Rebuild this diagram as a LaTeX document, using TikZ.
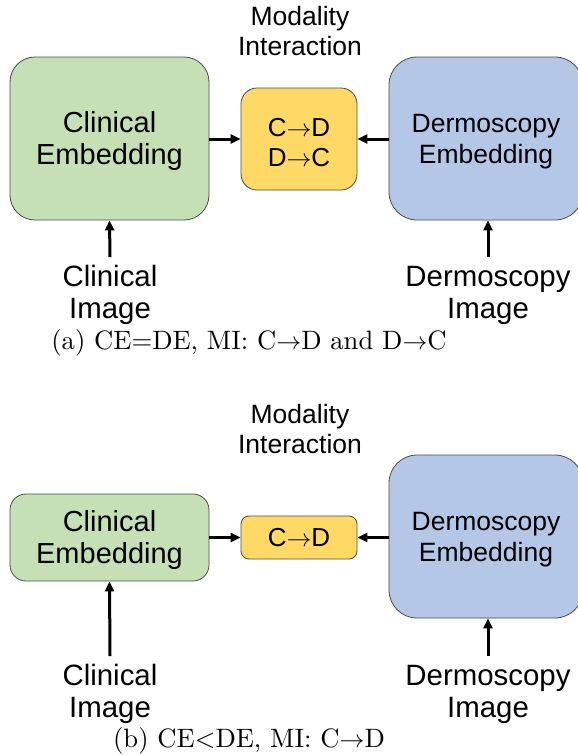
\documentclass[tikz,border=0pt]{standalone}
\usepackage{fontspec}
\newfontfamily\arialfont{Liberation Sans}
\newfontfamily\captionfont{lmroman10-regular}[Extension=.otf]
\usetikzlibrary{arrows.meta}
\definecolor{embgreen}{HTML}{C5E0B4}
\definecolor{embblue}{HTML}{B4C7E7}
\definecolor{miyellow}{HTML}{FFD966}
\newcommand{\tto}{{\ensuremath{\rightarrow}}}
\begin{document}
\begin{tikzpicture}[x=1pt,y=-1pt,
  block/.style={draw=black!70, line width=0.8pt, align=center, inner sep=0pt},
  cleanbox/.style={block, fill=embgreen, minimum width=199pt, text height=59pt, font=\arialfont\fontsize{29}{32}\selectfont},
  dermbox/.style={block, fill=embblue, minimum width=194pt, text height=56pt, font=\arialfont\fontsize{26.5}{31}\selectfont},
  mibox/.style={block, fill=miyellow, minimum width=116pt, font=\arialfont\fontsize{26}{30}\selectfont},
  feed/.style={line width=3pt, -{Triangle[length=10pt,width=9pt]}},
  inlabel/.style={align=center, inner sep=0pt, font=\arialfont\fontsize{29.4}{32}\selectfont},
  milabel/.style={align=center, inner sep=0pt, font=\arialfont\fontsize{26.5}{30}\selectfont},
  caption/.style={inner sep=0pt, font=\captionfont\fontsize{26.6}{30}\selectfont}]
\useasboundingbox (0,0) rectangle (578,755);
\clip (0,0) rectangle (578,755);

% ---------- (a) equal embeddings, two-way interaction ----------
\node[milabel] (mia) at (300,31) {Modality\\Interaction};
\node[cleanbox, minimum height=163pt, rounded corners=25pt] (cea) at (109.5,138.5) {Clinical\\Embedding};
\node[dermbox, minimum height=163pt, rounded corners=28pt] (dea) at (486,138.5) {Dermoscopy\\Embedding};
\node[mibox, minimum height=102pt, rounded corners=16pt, text height=54.5pt] (ia) at (299,139) {C\tto D\\D\tto C};
\node[inlabel] (cia) at (110,295) {Clinical\\Image};
\node[inlabel] (dia) at (488,295) {Dermoscopy\\Image};
\node[caption] (capa) at (249,343) {(a) CE=DE, MI: C\tto D and D\tto C};

\draw[feed] (cea.east |- ia.west) -- (ia.west);
\draw[feed] (dea.west |- ia.east) -- (ia.east);
\draw[feed] ([yshift=8pt]cia.north) -- (cea.south);
\draw[feed] ([yshift=8pt]cia.north -| dia.north) -- (dia.north |- dea.south);

% ---------- (b) smaller clinical embedding, one-way interaction ----------
\node[milabel] (mib) at (300,429) {Modality\\Interaction};
\node[cleanbox, minimum height=87pt, rounded corners=16pt] (ceb) at (109.5,537.5) {Clinical\\Embedding};
\node[dermbox, minimum height=163pt, rounded corners=28pt] (deb) at (486,536.5) {Dermoscopy\\Embedding};
\node[mibox, minimum height=43pt, rounded corners=8pt] (ib) at (299,537.5) {C\tto D};
\node[inlabel] (cib) at (110,694) {Clinical\\Image};
\node[inlabel] (dib) at (488,694) {Dermoscopy\\Image};
\node[caption] (capb) at (249,741) {(b) CE<DE, MI: C\tto D};

\draw[feed] (ceb.east |- ib.west) -- (ib.west);
\draw[feed] (deb.west |- ib.east) -- (ib.east);
\draw[feed] ([yshift=8pt]cib.north) -- (ceb.south);
\draw[feed] ([yshift=8pt]cib.north -| dib.north) -- (dib.north |- deb.south);
\end{tikzpicture}
\end{document}
